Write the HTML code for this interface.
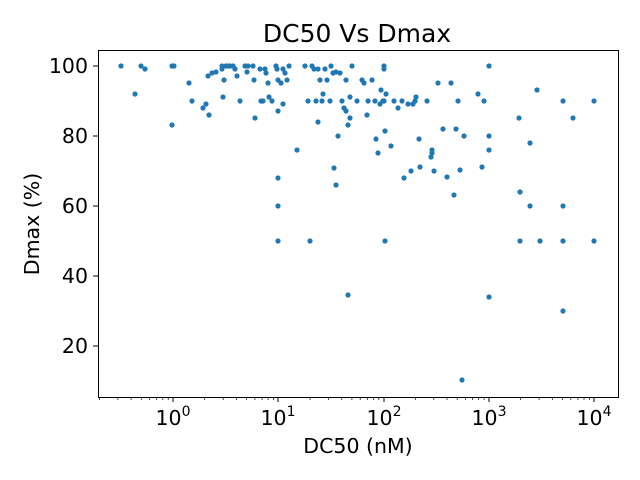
<!DOCTYPE html>
<html><head><meta charset="utf-8"><style>
html,body{margin:0;padding:0;background:#fff;}
svg{display:block;font-family:"DejaVu Sans","Liberation Sans",sans-serif;}
</style></head><body>
<svg width="640" height="480" viewBox="0 0 640 480" xmlns="http://www.w3.org/2000/svg">
<rect width="640" height="480" fill="#fff"/>
<text x="357" y="42" font-size="25" text-anchor="middle" fill="#000">DC50 Vs Dmax</text>
<g fill="#1f77b4">
<circle cx="121" cy="66" r="2.6"/><circle cx="135" cy="94" r="2.6"/><circle cx="141" cy="66" r="2.6"/><circle cx="145" cy="69" r="2.6"/><circle cx="172" cy="66" r="2.6"/><circle cx="174" cy="66" r="2.6"/><circle cx="172" cy="125" r="2.6"/><circle cx="189" cy="83" r="2.6"/><circle cx="192" cy="101" r="2.6"/><circle cx="203" cy="108" r="2.6"/><circle cx="206" cy="104" r="2.6"/><circle cx="208" cy="76" r="2.6"/><circle cx="209" cy="115" r="2.6"/><circle cx="212" cy="73" r="2.6"/><circle cx="216" cy="72" r="2.6"/><circle cx="222" cy="66" r="2.6"/><circle cx="222" cy="69" r="2.6"/><circle cx="223" cy="97" r="2.6"/><circle cx="224" cy="80" r="2.6"/><circle cx="226" cy="66" r="2.6"/><circle cx="228" cy="66" r="2.6"/><circle cx="230" cy="66" r="2.6"/><circle cx="233" cy="66" r="2.6"/><circle cx="235" cy="69" r="2.6"/><circle cx="237" cy="76" r="2.6"/><circle cx="240" cy="101" r="2.6"/><circle cx="245" cy="66" r="2.6"/><circle cx="247" cy="72" r="2.6"/><circle cx="248" cy="66" r="2.6"/><circle cx="253" cy="66" r="2.6"/><circle cx="254" cy="80" r="2.6"/><circle cx="255" cy="118" r="2.6"/><circle cx="260" cy="69" r="2.6"/><circle cx="261" cy="101" r="2.6"/><circle cx="263" cy="101" r="2.6"/><circle cx="265" cy="69" r="2.6"/><circle cx="266" cy="73" r="2.6"/><circle cx="268" cy="83" r="2.6"/><circle cx="269" cy="97" r="2.6"/><circle cx="272" cy="101" r="2.6"/><circle cx="276" cy="66" r="2.6"/><circle cx="277" cy="69" r="2.6"/><circle cx="278" cy="80" r="2.6"/><circle cx="278" cy="111" r="2.6"/><circle cx="278" cy="178" r="2.6"/><circle cx="278" cy="206" r="2.6"/><circle cx="278" cy="241" r="2.6"/><circle cx="281" cy="83" r="2.6"/><circle cx="283" cy="104" r="2.6"/><circle cx="283" cy="69" r="2.6"/><circle cx="285" cy="73" r="2.6"/><circle cx="287" cy="80" r="2.6"/><circle cx="289" cy="66" r="2.6"/><circle cx="297" cy="150" r="2.6"/><circle cx="305" cy="66" r="2.6"/><circle cx="308" cy="101" r="2.6"/><circle cx="310" cy="241" r="2.6"/><circle cx="312" cy="66" r="2.6"/><circle cx="314" cy="69" r="2.6"/><circle cx="316" cy="101" r="2.6"/><circle cx="318" cy="122" r="2.6"/><circle cx="318" cy="69" r="2.6"/><circle cx="320" cy="80" r="2.6"/><circle cx="322" cy="101" r="2.6"/><circle cx="323" cy="94" r="2.6"/><circle cx="325" cy="69" r="2.6"/><circle cx="327" cy="80" r="2.6"/><circle cx="330" cy="101" r="2.6"/><circle cx="331" cy="66" r="2.6"/><circle cx="333" cy="73" r="2.6"/><circle cx="334" cy="168" r="2.6"/><circle cx="336" cy="185" r="2.6"/><circle cx="336" cy="72" r="2.6"/><circle cx="338" cy="136" r="2.6"/><circle cx="340" cy="73" r="2.6"/><circle cx="342" cy="101" r="2.6"/><circle cx="344" cy="108" r="2.6"/><circle cx="346" cy="111" r="2.6"/><circle cx="346" cy="80" r="2.6"/><circle cx="348" cy="295" r="2.6"/><circle cx="348" cy="125" r="2.6"/><circle cx="350" cy="118" r="2.6"/><circle cx="350" cy="97" r="2.6"/><circle cx="352" cy="66" r="2.6"/><circle cx="357" cy="101" r="2.6"/><circle cx="362" cy="80" r="2.6"/><circle cx="364" cy="83" r="2.6"/><circle cx="367" cy="115" r="2.6"/><circle cx="368" cy="101" r="2.6"/><circle cx="372" cy="80" r="2.6"/><circle cx="375" cy="101" r="2.6"/><circle cx="376" cy="139" r="2.6"/><circle cx="378" cy="153" r="2.6"/><circle cx="380" cy="104" r="2.6"/><circle cx="381" cy="90" r="2.6"/><circle cx="383" cy="101" r="2.6"/><circle cx="384" cy="101" r="2.6"/><circle cx="384" cy="66" r="2.6"/><circle cx="384" cy="69" r="2.6"/><circle cx="385" cy="241" r="2.6"/><circle cx="385" cy="131" r="2.6"/><circle cx="386" cy="94" r="2.6"/><circle cx="391" cy="146" r="2.6"/><circle cx="394" cy="101" r="2.6"/><circle cx="398" cy="108" r="2.6"/><circle cx="402" cy="101" r="2.6"/><circle cx="404" cy="178" r="2.6"/><circle cx="408" cy="104" r="2.6"/><circle cx="411" cy="171" r="2.6"/><circle cx="413" cy="104" r="2.6"/><circle cx="415" cy="101" r="2.6"/><circle cx="416" cy="97" r="2.6"/><circle cx="419" cy="139" r="2.6"/><circle cx="420" cy="167" r="2.6"/><circle cx="427" cy="101" r="2.6"/><circle cx="431" cy="157" r="2.6"/><circle cx="432" cy="150" r="2.6"/><circle cx="432" cy="153" r="2.6"/><circle cx="434" cy="171" r="2.6"/><circle cx="438" cy="83" r="2.6"/><circle cx="443" cy="129" r="2.6"/><circle cx="447" cy="177" r="2.6"/><circle cx="451" cy="83" r="2.6"/><circle cx="454" cy="195" r="2.6"/><circle cx="456" cy="129" r="2.6"/><circle cx="458" cy="101" r="2.6"/><circle cx="460" cy="170" r="2.6"/><circle cx="462" cy="380" r="2.6"/><circle cx="464" cy="136" r="2.6"/><circle cx="478" cy="94" r="2.6"/><circle cx="482" cy="167" r="2.6"/><circle cx="484" cy="101" r="2.6"/><circle cx="489" cy="66" r="2.6"/><circle cx="489" cy="136" r="2.6"/><circle cx="489" cy="150" r="2.6"/><circle cx="489" cy="297" r="2.6"/><circle cx="519" cy="118" r="2.6"/><circle cx="520" cy="192" r="2.6"/><circle cx="520" cy="241" r="2.6"/><circle cx="530" cy="143" r="2.6"/><circle cx="530" cy="206" r="2.6"/><circle cx="537" cy="90" r="2.6"/><circle cx="540" cy="241" r="2.6"/><circle cx="563" cy="101" r="2.6"/><circle cx="563" cy="206" r="2.6"/><circle cx="563" cy="241" r="2.6"/><circle cx="563" cy="311" r="2.6"/><circle cx="573" cy="118" r="2.6"/><circle cx="594" cy="101" r="2.6"/><circle cx="594" cy="241" r="2.6"/>
</g>
<rect x="98.5" y="50.5" width="520" height="347" fill="none" stroke="#000" stroke-width="1"/>
<g stroke="#000" stroke-width="1">
<line x1="173" y1="397" x2="173" y2="402"/><line x1="278" y1="397" x2="278" y2="402"/><line x1="384" y1="397" x2="384" y2="402"/><line x1="489" y1="397" x2="489" y2="402"/><line x1="594" y1="397" x2="594" y2="402"/>
<line x1="93" y1="66" x2="98" y2="66"/><line x1="93" y1="136" x2="98" y2="136"/><line x1="93" y1="206" x2="98" y2="206"/><line x1="93" y1="276" x2="98" y2="276"/><line x1="93" y1="346" x2="98" y2="346"/>
</g>
<path stroke="#000" stroke-width="0.7" d="M99.4 397v3M117.9 397v3M131.1 397v3M141.3 397v3M149.6 397v3M156.7 397v3M162.8 397v3M168.2 397v3M204.7 397v3M223.2 397v3M236.4 397v3M246.6 397v3M254.9 397v3M262 397v3M268.1 397v3M273.5 397v3M310 397v3M328.5 397v3M341.7 397v3M351.9 397v3M360.2 397v3M367.3 397v3M373.4 397v3M378.8 397v3M415.3 397v3M433.8 397v3M447 397v3M457.2 397v3M465.5 397v3M472.6 397v3M478.7 397v3M484.1 397v3M520.6 397v3M539.1 397v3M552.3 397v3M562.5 397v3M570.8 397v3M577.9 397v3M584 397v3M589.4 397v3"/>
<g font-size="20.5" fill="#000" text-anchor="middle">
<text x="173" y="425">10<tspan font-size="14" dy="-9">0</tspan></text>
<text x="278" y="425">10<tspan font-size="14" dy="-9">1</tspan></text>
<text x="384" y="425">10<tspan font-size="14" dy="-9">2</tspan></text>
<text x="489" y="425">10<tspan font-size="14" dy="-9">3</tspan></text>
<text x="594" y="425">10<tspan font-size="14" dy="-9">4</tspan></text>
</g>
<g font-size="20.5" fill="#000" text-anchor="end">
<text x="88" y="73">100</text><text x="88" y="143">80</text><text x="88" y="213">60</text><text x="88" y="283">40</text><text x="88" y="353">20</text>
</g>
<text x="358" y="453" font-size="20.5" text-anchor="middle">DC50 (nM)</text>
<text transform="translate(39,224) rotate(-90)" font-size="20.5" text-anchor="middle">Dmax (%)</text>
</svg>
</body></html>
